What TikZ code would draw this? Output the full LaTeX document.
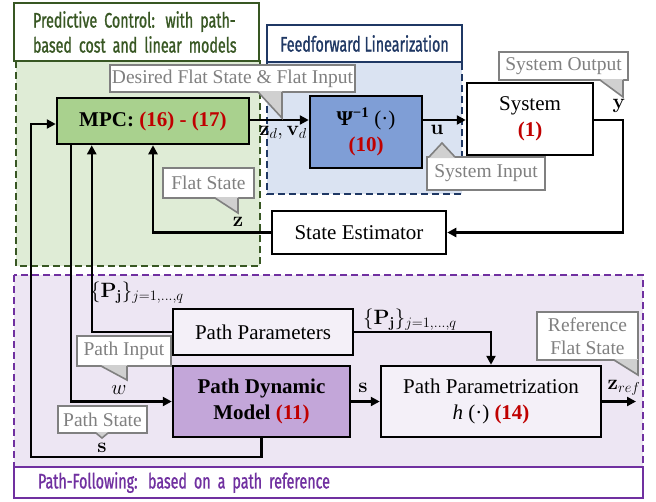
\documentclass[tikz,border=0pt]{standalone}
\usepackage[no-math]{fontspec}
\setmainfont{Liberation Serif}
\newfontfamily\titlefont[FakeStretch=0.68,FakeBold=1]{Fira Sans}
\usetikzlibrary{arrows.meta}

\definecolor{ttlgreen}{RGB}{56,87,35}
\definecolor{reggreen}{RGB}{223,236,214}
\definecolor{mpcgreen}{RGB}{169,209,142}
\definecolor{ttlblue}{RGB}{31,56,100}
\definecolor{regblue}{RGB}{218,227,242}
\definecolor{psiblue}{RGB}{127,158,214}
\definecolor{ttlpurple}{RGB}{112,48,160}
\definecolor{regpurple}{RGB}{237,230,243}
\definecolor{pdmpurple}{RGB}{195,166,217}
\definecolor{pplight}{RGB}{244,240,248}
\definecolor{numred}{RGB}{192,0,0}
\definecolor{calgrey}{RGB}{128,128,128}
\definecolor{ptrgrey}{RGB}{208,208,208}

\tikzset{
  blk/.style={draw=black,line width=2.5pt,align=center,inner sep=0pt,
    font=\fontsize{21}{26}\selectfont},
  region/.style={line width=2.2pt,dash pattern=on 7pt off 4pt},
  ttlbox/.style={draw,fill=white,line width=2.2pt,inner sep=0pt,
    font=\titlefont\fontsize{21}{25}\selectfont},
  callout/.style={draw=calgrey,fill=white,line width=2pt,text=calgrey,
    inner sep=0pt,align=center,font=\fontsize{19.5}{23}\selectfont},
  ptr/.style={fill=ptrgrey,draw=calgrey,line width=1.6pt},
  lbl/.style={inner sep=0pt,font=\fontsize{20}{24}\selectfont},
  conn/.style={->,line width=2.3pt},
}

\begin{document}
\begin{tikzpicture}[x=1pt,y=-1pt,>={Triangle[length=9pt,width=9pt]}]
  \useasboundingbox (0,0) rectangle (656,501);

  % regions
  \draw[region,draw=ttlgreen,fill=reggreen] (16,61) rectangle (260,266);
  \draw[region,draw=ttlblue,fill=regblue] (267,62) rectangle (462,194);
  \draw[region,draw=ttlpurple,fill=regpurple] (14,275) rectangle (643,467);

  \node[ttlbox,draw=ttlgreen,text=ttlgreen,align=left,minimum width=245pt,minimum height=58pt,
    text width=207pt] (ttlpc) at (136.5,32) {Predictive Control: with path-\\based cost and linear models};
  \node[ttlbox,draw=ttlblue,text=ttlblue,minimum width=195pt,minimum height=37pt] (ttlff) at (364.5,43.5) {Feedforward Linearization};
  \node[ttlbox,draw=ttlpurple,text=ttlpurple,align=left,minimum width=629pt,minimum height=31pt,
    text width=581pt] (ttlpf) at (328.5,482.5) {Path-Following: based on a path reference};

  % blocks
  \node[blk,fill=mpcgreen,minimum width=192pt,minimum height=46pt] (mpc) at (153,121)
    {\textbf{MPC: \textcolor{numred}{(16) - (17)}}};
  \node[blk,fill=psiblue,minimum width=112pt,minimum height=72pt] (psi) at (366,132)
    {\textbf{Ψ}\textsuperscript{\textbf{−1}} (·)\\\textcolor{numred}{\textbf{(10)}}};
  \node[blk,fill=white,minimum width=126pt,minimum height=72pt] (sys) at (530,119)
    {System\\\textcolor{numred}{\textbf{(1)}}};
  \node[blk,fill=white,minimum width=174pt,minimum height=43pt] (est) at (359,232.5) {State Estimator};
  \node[blk,fill=pplight,minimum width=180pt,minimum height=46pt] (ppar) at (263,332) {Path Parameters};
  \node[blk,fill=pdmpurple,minimum width=177pt,minimum height=71pt] (pdm) at (261.5,401.5)
    {\textbf{Path Dynamic}\\\textbf{Model \textcolor{numred}{(11)}}};
  \node[blk,fill=pplight,minimum width=220pt,minimum height=71pt] (ppz) at (491,401.5)
    {Path Parametrization\\\textit{h} (·) \textcolor{numred}{\textbf{(14)}}};

  % connectors
  \coordinate (yout) at (623,120);
  \coordinate (sloop) at (31,457);
  \coordinate (zout) at (636,401.5);
  \draw[conn] (mpc.east |- yout) -- (psi.west |- yout);
  \draw[conn] (psi.east |- yout) -- (sys.west |- yout);
  \draw[conn] (sys.east |- yout) -- (yout) |- (est.east);
  \draw[conn] (est.west) -| (mpc.south);
  \draw[conn] (ppar.west) -| ([xshift=36pt]mpc.south west);
  \draw[conn] ([xshift=15pt]mpc.south west) |- (pdm.west);
  \draw[conn] (pdm.south) |- (sloop) |- ([yshift=-3pt]mpc.west);
  \draw[conn] (pdm.east) -- (ppz.west);
  \draw[conn] (ppar.east) -| (ppz.north);
  \draw[conn] (ppz.east) -- (zout);

  % labels
  \node[lbl] (lzv) at (283,133) {$\mathbf{z}_d,\mathbf{v}_d$};
  \node[lbl] (lu) at (437,130) {$\mathbf{u}$};
  \node[lbl] (ly) at (619,106) {$\mathbf{y}$};
  \node[lbl] (lz) at (238,222) {$\mathbf{z}$};
  \node[lbl] (lp1) at (137,293) {$\{\mathbf{P}_\mathbf{j}\}_{j=1,\ldots,q}$};
  \node[lbl] (lp2) at (410,320) {$\{\mathbf{P}_\mathbf{j}\}_{j=1,\ldots,q}$};
  \node[lbl] (lw) at (119,390) {$w$};
  \node[lbl] (ls1) at (102,448) {$\mathbf{s}$};
  \node[lbl] (ls2) at (363,388) {$\mathbf{s}$};
  \node[lbl] (lzr) at (624,388) {$\mathbf{z}_{ref}$};

  % callouts
  \node[callout,minimum width=245pt,minimum height=27pt] (cdes) at (232.5,78.5) {Desired Flat State \& Flat Input};
  \fill[ptrgrey] (258,91) -- (282,91) -- (282,118) -- cycle;
  \draw[ptr,fill=none] (258,92) -- (282,118) -- (282,92);
  \node[callout,minimum width=129pt,minimum height=28pt] (cout) at (563.5,66) {System Output};
  \fill[ptrgrey] (600,79) -- (623,79) -- (623,97) -- cycle;
  \draw[ptr,fill=none] (600,80) -- (623,97) -- (623,80);
  \node[callout,minimum width=118pt,minimum height=33pt] (cin) at (486,173.5) {System Input};
  \fill[ptrgrey] (429,158) -- (455,158) -- (442,143) -- cycle;
  \draw[ptr,fill=none] (429,157) -- (442,143) -- (455,157);
  \node[callout,minimum width=91pt,minimum height=30pt] (cflat) at (208.5,183) {Flat State};
  \fill[ptrgrey] (215,197) -- (238,197) -- (238,213) -- cycle;
  \draw[ptr,fill=none] (215,198) -- (238,213) -- (238,198);
  \node[callout,minimum width=94pt,minimum height=30pt] (cpin) at (124,351) {Path Input};
  \fill[ptrgrey] (101,365) -- (127,365) -- (127,380) -- cycle;
  \draw[ptr,fill=none] (101,366) -- (127,380) -- (127,366);
  \node[callout,minimum width=89pt,minimum height=27pt] (cpst) at (102.5,419.5) {Path State};
  \fill[ptrgrey] (96,432) -- (108,432) -- (102,438) -- cycle;
  \draw[ptr,fill=none] (96,433) -- (102,438) -- (108,433);
  \node[callout,minimum width=101pt,minimum height=48pt] (cref) at (587.5,336) {Reference\\Flat State};
  \fill[ptrgrey] (614,359) -- (638,359) -- (638,375) -- cycle;
  \draw[ptr,fill=none] (614,360) -- (638,375) -- (638,360);
\end{tikzpicture}
\end{document}
